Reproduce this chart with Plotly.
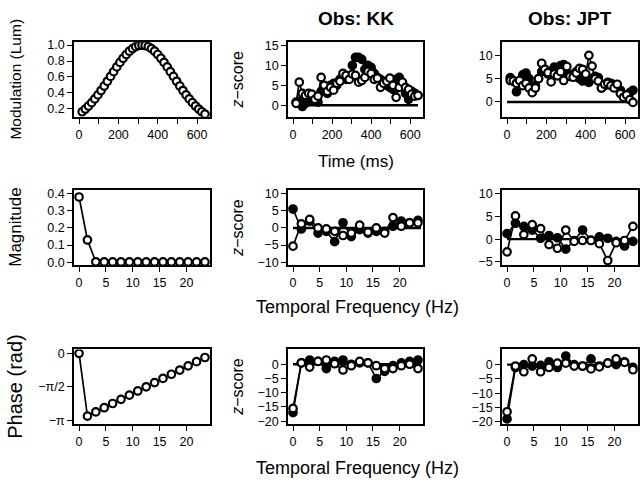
import plotly.graph_objects as go

# ---------------- data ----------------
time_ms = [16, 32, 48, 64, 80, 96, 112, 128, 144, 160, 176, 192, 208, 224, 240, 256,
           272, 288, 304, 320, 336, 352, 368, 384, 400, 416, 432, 448, 464, 480, 496,
           512, 528, 544, 560, 576, 592, 608, 624, 640]

modulation = [0.164, 0.198, 0.236, 0.278, 0.325, 0.375, 0.430, 0.487, 0.546, 0.607,
              0.667, 0.726, 0.783, 0.835, 0.882, 0.923, 0.956, 0.980, 0.995, 1.000,
              0.995, 0.980, 0.956, 0.923, 0.882, 0.835, 0.783, 0.726, 0.667, 0.607,
              0.546, 0.487, 0.430, 0.375, 0.325, 0.278, 0.236, 0.198, 0.164, 0.135]

kk_time_filled = [0.8, 1.0, -0.3, 0.5, 1.5, 2.0, 1.0, 0.8, 3.5, 4.0, 3.0, 5.0, 5.5, 5.0,
                  6.5, 7.5, 6.5, 7.0, 10.0, 12.0, 12.0, 11.5, 9.0, 10.0, 9.5, 8.0, 7.0,
                  6.5, 6.0, 5.0, 4.5, 4.0, 6.5, 7.0, 5.0, 3.0, 1.5, 3.5, 3.0, 2.5]
kk_time_open = [0.5, 5.8, 3.0, 2.5, 3.0, 2.8, 1.5, 2.3, 7.0, 5.0, 3.5, 4.5, 3.8, 5.5,
                6.0, 8.0, 7.5, 6.5, 7.8, 7.5, 5.8, 6.2, 7.0, 8.5, 8.0, 6.5, 6.8, 4.5,
                5.5, 6.0, 6.8, 5.0, 2.0, 4.5, 5.8, 4.5, 4.0, 2.8, 2.3, 2.5]

jpt_time_filled = [5.2, 4.5, 2.2, 4.0, 5.8, 6.2, 5.0, 3.0, 3.5, 5.0, 6.5, 7.0, 6.0, 6.5,
                   7.5, 7.0, 7.8, 8.0, 6.0, 5.5, 6.0, 6.5, 5.0, 4.5, 4.8, 4.2, 5.0, 5.5,
                   5.2, 3.0, 3.5, 4.2, 4.0, 3.5, 3.3, 2.5, 1.5, 1.0, 2.0, 2.5]
jpt_time_open = [4.6, 4.5, 4.0, 4.6, 3.5, 4.0, 3.0, 2.0, 3.0, 5.0, 8.3, 7.0, 6.3, 4.3,
                 6.0, 5.6, 6.5, 4.6, 7.6, 5.5, 5.3, 6.2, 7.2, 7.0, 6.0, 10.0, 7.7, 5.0,
                 4.5, 3.0, 3.8, 4.0, 3.5, 3.0, 3.8, 1.8, 1.0, 1.5, 0.5, -0.1]

freq_hz = [0, 1.5625, 3.125, 4.6875, 6.25, 7.8125, 9.375, 10.9375, 12.5, 14.0625,
           15.625, 17.1875, 18.75, 20.3125, 21.875, 23.4375]

magnitude = [0.38, 0.13, 0.003, 0.002, 0.002, 0.002, 0.002, 0.002, 0.002, 0.002,
             0.002, 0.002, 0.002, 0.002, 0.002, 0.002]

phase = [0.0, -2.945, -2.749, -2.553, -2.356, -2.160, -1.963, -1.767, -1.571, -1.374,
         -1.178, -0.982, -0.785, -0.589, -0.393, -0.196]

kk_mag_filled = [5.5, -0.3, 2.0, -1.5, -1.0, -4.0, 1.5, -2.5, -0.5, -1.5, -1.0, -1.0,
                 0.5, 2.0, 1.5, 2.2]
kk_mag_open = [-5.3, 1.2, 2.5, 0.0, -0.3, -1.0, -2.2, -1.5, 0.8, -1.2, 0.0, -1.5,
               3.0, 0.5, 1.5, 1.5]

jpt_mag_filled = [1.2, 3.5, 2.8, 2.0, 0.2, 0.8, 0.3, -2.2, -0.3, 2.0, -0.2, 0.5, 0.2,
                  -0.5, -1.5, -0.5]
jpt_mag_open = [-2.8, 5.1, 1.0, 3.2, 2.3, -1.2, -2.0, 2.0, -0.5, -0.3, -0.3, -1.0,
                -4.7, -0.8, -0.3, 2.8]

kk_phase_filled = [-17.0, 0.5, 1.5, 1.0, -1.5, 1.0, 1.5, 0.0, 0.5, 0.5, -5.0, -2.5,
                   -0.5, 0.5, 1.0, 1.5]
kk_phase_open = [-15.5, 0.5, -1.0, 1.0, 1.5, 0.2, -2.0, -0.5, 1.0, 0.5, -0.5, -1.5,
                 -1.5, -0.5, 0.0, -1.5]

jpt_phase_filled = [-19.0, -1.0, 0.0, -0.5, -0.3, 1.0, -1.0, 3.0, 0.0, -0.5, 2.0, -0.5,
                    0.5, 0.0, 1.0, -1.0]
jpt_phase_open = [-16.5, -0.5, -2.5, 2.0, -2.5, -1.0, 0.5, 0.5, -0.5, -0.5, -1.5, -0.8,
                  0.5, 2.0, 0.8, -1.8]

time_ticks = [0, 100, 200, 300, 400, 500, 600]
time_ticklabels = ["0", "", "200", "", "400", "", "600"]
freq_ticks = [0, 5, 10, 15, 20]

# ---------------- layout helpers ----------------
W, H = 640, 485
col_px = [(74, 210), (288, 423), (502, 638)]
row_px = [(39, 115), (190, 266), (352, 428)]
FONT = "Liberation Sans, Arial, Helvetica, sans-serif"
TICKFONT = dict(family=FONT, size=12.5, color="black")

fig = go.Figure()

def ax_common():
    return dict(showline=True, mirror=True, linecolor="black", linewidth=1.8,
                ticks="outside", ticklen=5, tickwidth=1.3, tickcolor="black",
                showgrid=False, zeroline=False, tickfont=TICKFONT)

def add_series(idx, x, y, filled):
    ax = "" if idx == 1 else str(idx)
    fig.add_trace(go.Scatter(
        x=x, y=y, mode="lines+markers", xaxis="x" + ax, yaxis="y" + ax,
        line=dict(color="black", width=1.7),
        marker=dict(symbol="circle", size=7.5,
                    color="black" if filled else "white",
                    line=dict(color="black", width=2.2)),
        showlegend=False, hoverinfo="skip"))

def add_zero(idx, x0, x1):
    ax = "" if idx == 1 else str(idx)
    fig.add_shape(type="line", xref="x" + ax, yref="y" + ax, x0=x0, x1=x1, y0=0, y1=0,
                  line=dict(color="black", width=2.4), layer="below")

layout_axes = {}
ranges_x = {0: [-25.6, 665.6], 1: [-0.94, 24.38], 2: [-0.94, 24.38]}
yranges = {
    1: [0.100, 1.035], 2: [-2.9, 15.8], 3: [-3.2, 12.8],
    4: [-0.016, 0.418], 5: [-10.8, 10.9], 6: [-5.7, 10.7],
    7: [-3.32, 0.18], 8: [-21.0, 5.2], 9: [-20.8, 5.3],
}
yticks = {
    1: dict(tickvals=[0.2, 0.4, 0.6, 0.8, 1.0], ticktext=["0.2", "0.4", "0.6", "0.8", "1.0"]),
    2: dict(tickvals=[0, 5, 10, 15]),
    3: dict(tickvals=[0, 5, 10]),
    4: dict(tickvals=[0, 0.1, 0.2, 0.3, 0.4], ticktext=["0.0", "0.1", "0.2", "0.3", "0.4"]),
    5: dict(tickvals=[-10, -5, 0, 5, 10]),
    6: dict(tickvals=[-5, 0, 5, 10]),
    7: dict(tickvals=[0, -1.5708, -3.1416], ticktext=["0", "−π/2", "−π"]),
    8: dict(tickvals=[-20, -15, -10, -5, 0]),
    9: dict(tickvals=[-20, -15, -10, -5, 0]),
}

for r in range(3):
    for c in range(3):
        idx = r * 3 + c + 1
        sfx = "" if idx == 1 else str(idx)
        x0, x1 = col_px[c]
        y0, y1 = row_px[r]
        xa = ax_common()
        xa.update(domain=[x0 / W, x1 / W], anchor="y" + sfx, range=ranges_x[r])
        if r == 0:
            xa.update(tickvals=time_ticks, ticktext=time_ticklabels)
        else:
            xa.update(tickvals=freq_ticks)
        ya = ax_common()
        ya.update(domain=[1 - y1 / H, 1 - y0 / H], anchor="x" + sfx,
                  range=yranges[idx], **yticks[idx])
        layout_axes["xaxis" + sfx] = xa
        layout_axes["yaxis" + sfx] = ya

add_series(1, time_ms, modulation, False)
add_zero(2, 0, 640)
add_series(2, time_ms, kk_time_filled, True)
add_series(2, time_ms, kk_time_open, False)
add_zero(3, 0, 640)
add_series(3, time_ms, jpt_time_filled, True)
add_series(3, time_ms, jpt_time_open, False)
add_series(4, freq_hz, magnitude, False)
add_zero(5, 0, 24)
add_series(5, freq_hz, kk_mag_filled, True)
add_series(5, freq_hz, kk_mag_open, False)
add_zero(6, 0, 24)
add_series(6, freq_hz, jpt_mag_filled, True)
add_series(6, freq_hz, jpt_mag_open, False)
add_series(7, freq_hz, phase, False)
add_zero(8, 0, 24)
add_series(8, freq_hz, kk_phase_filled, True)
add_series(8, freq_hz, kk_phase_open, False)
add_zero(9, 0, 24)
add_series(9, freq_hz, jpt_phase_filled, True)
add_series(9, freq_hz, jpt_phase_open, False)

def ann(text, xpx, ypx, size, angle=0, bold=False):
    t = "<b>" + text + "</b>" if bold else text
    fig.add_annotation(text=t, x=xpx / W, y=1 - ypx / H, xref="paper", yref="paper",
                       showarrow=False, textangle=angle, xanchor="center", yanchor="middle",
                       font=dict(family=FONT, size=size, color="black"))

ann("Obs: KK", 355.5, 15, 19, bold=True)
ann("Obs: JPT", 570, 15, 19, bold=True)
ann("Time (ms)", 355.5, 160, 17)
ann("Temporal Frequency (Hz)", 357, 309, 18)
ann("Temporal Frequency (Hz)", 357, 473, 18)
ann("Modulation (Lum)", 16, 77, 15.5, angle=-90)
ann("Magnitude", 16, 228, 17, angle=-90)
ann("Phase (rad)", 15, 390, 20, angle=-90)
ann("<i>z</i>−score", 238, 77, 16, angle=-90)
ann("<i>z</i>−score", 238, 228, 16, angle=-90)
ann("<i>z</i>−score", 238, 390, 16, angle=-90)

fig.update_layout(width=W, height=H, margin=dict(l=0, r=0, t=0, b=0),
                  paper_bgcolor="white", plot_bgcolor="white",
                  showlegend=False, **layout_axes)

fig.write_html("out.html")
